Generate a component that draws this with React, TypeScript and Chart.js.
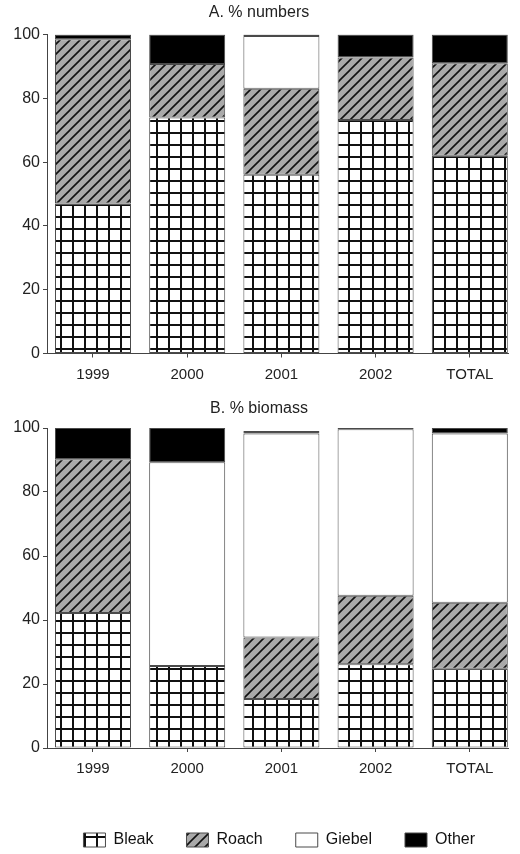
import React, { useEffect, useRef } from "react";
import { Chart, registerables } from "chart.js";

Chart.register(...registerables);

// ---- data ----
const categories = ["1999", "2000", "2001", "2002", "TOTAL"];
const seriesNames = ["Bleak", "Roach", "Giebel", "Other"];
const yTickValues = [0, 20, 40, 60, 80, 100];

const titleNumbers = "A. % numbers";
const bleakNumbers = [47, 74, 56, 73.2, 62];
const roachNumbers = [51.5, 16.75, 27, 19.6, 29];
const giebelNumbers = [0, 0, 16.5, 0, 0];
const otherNumbers = [1.5, 9.25, 0.5, 7.2, 9];

const titleBiomass = "B. % biomass";
const bleakBiomass = [42.2, 25.6, 15.3, 26.2, 24.8];
const roachBiomass = [48, 0, 19.2, 21.4, 20.6];
const giebelBiomass = [0, 63.7, 63.8, 52, 52.9];
const otherBiomass = [9.8, 10.7, 0.8, 0.4, 1.7];

const FONT = "'Liberation Sans', Arial, Helvetica, sans-serif";
const TEXT = "#222";
const AXIS = "#444";
const PAD_LEFT = 10;

function gridPattern(ctx: CanvasRenderingContext2D) {
  const c = document.createElement("canvas");
  c.width = 12;
  c.height = 12;
  const g = c.getContext("2d")!;
  g.fillStyle = "#ffffff";
  g.fillRect(0, 0, 12, 12);
  g.fillStyle = "#111111";
  g.fillRect(0, 0, 12, 2);
  g.fillRect(0, 0, 2, 12);
  return ctx.createPattern(c, "repeat")!;
}

function hatchPattern(ctx: CanvasRenderingContext2D) {
  const c = document.createElement("canvas");
  c.width = 10;
  c.height = 10;
  const g = c.getContext("2d")!;
  g.fillStyle = "#a9a9a9";
  g.fillRect(0, 0, 10, 10);
  g.strokeStyle = "#111111";
  g.lineWidth = 1.6;
  g.beginPath();
  g.moveTo(-2, 12);
  g.lineTo(12, -2);
  g.moveTo(-2, 2);
  g.lineTo(2, -2);
  g.moveTo(8, 12);
  g.lineTo(12, 8);
  g.stroke();
  return ctx.createPattern(c, "repeat")!;
}

function buildConfig(
  canvas: HTMLCanvasElement,
  title: string,
  series: number[][],
  withLegend: boolean,
  titlePad: { top: number; bottom: number },
  xHeight: number
): any {
  const ctx = canvas.getContext("2d")!;
  const fills: any[] = [gridPattern(ctx), hatchPattern(ctx), "#ffffff", "#000000"];
  const datasets = seriesNames.map((name, k) => ({
    label: name,
    data: series[k].map((v, i) => ({ x: i, y: v })),
    backgroundColor: fills[k],
    borderColor: "#4a4a4a",
    borderWidth: 1,
    borderSkipped: false,
    inflateAmount: 0,
    barPercentage: 0.807,
    categoryPercentage: 1,
  }));
  return {
    type: "bar",
    data: { datasets },
    options: {
      animation: false,
      responsive: false,
      devicePixelRatio: 1,
      layout: { padding: { left: PAD_LEFT, right: 12, top: 0, bottom: 0 } },
      plugins: {
        title: {
          display: true,
          text: title,
          color: TEXT,
          font: { family: FONT, size: 16, weight: "normal" },
          padding: titlePad,
        },
        legend: withLegend
          ? {
              display: true,
              position: "bottom",
              align: "end",
              labels: {
                boxWidth: 22,
                boxHeight: 14,
                padding: 33,
                color: "#111",
                font: { family: FONT, size: 16 },
              },
            }
          : { display: false },
        tooltip: { enabled: false },
      },
      scales: {
        x: {
          type: "linear",
          stacked: true,
          offset: false,
          min: -0.4883,
          max: 4.4056,
          afterBuildTicks: (s: any) => {
            s.ticks = categories.map((_, i) => ({ value: i }));
          },
          afterFit: (s: any) => {
            s.height = xHeight;
          },
          ticks: {
            callback: (v: any) => categories[Math.round(v)] ?? "",
            color: TEXT,
            font: { family: FONT, size: 15 },
            padding: 8,
            autoSkip: false,
            maxRotation: 0,
          },
          grid: {
            display: true,
            offset: false,
            drawOnChartArea: false,
            drawTicks: true,
            tickLength: 4,
            color: AXIS,
          },
          border: { display: true, color: AXIS, width: 1 },
        },
        y: {
          stacked: true,
          min: 0,
          max: 100,
          afterBuildTicks: (s: any) => {
            s.ticks = yTickValues.map((v) => ({ value: v }));
          },
          afterFit: (s: any) => {
            s.width = 47 - PAD_LEFT;
          },
          ticks: {
            color: TEXT,
            font: { family: FONT, size: 16 },
            padding: 3,
          },
          grid: {
            display: true,
            drawOnChartArea: false,
            drawTicks: true,
            tickLength: 4,
            color: AXIS,
          },
          border: { display: true, color: AXIS, width: 1 },
        },
      },
    },
  };
}

export default function App() {
  const refA = useRef<HTMLCanvasElement>(null);
  const refB = useRef<HTMLCanvasElement>(null);

  useEffect(() => {
    const a = new Chart(
      refA.current!,
      buildConfig(
        refA.current!,
        titleNumbers,
        [bleakNumbers, roachNumbers, giebelNumbers, otherNumbers],
        false,
        { top: 3, bottom: 12.3 },
        38.5
      )
    );
    const b = new Chart(
      refB.current!,
      buildConfig(
        refB.current!,
        titleBiomass,
        [bleakBiomass, roachBiomass, giebelBiomass, otherBiomass],
        true,
        { top: 7, bottom: 9.8 },
        51
      )
    );
    return () => {
      a.destroy();
      b.destroy();
    };
  }, []);

  return (
    <div
      style={{
        position: "absolute",
        left: 0,
        top: 0,
        width: 520,
        height: 854,
        overflow: "hidden",
        background: "#fff",
      }}
    >
      <canvas
        ref={refA}
        width={520}
        height={392}
        style={{ position: "absolute", left: 0, top: 0, width: 520, height: 392 }}
      />
      <canvas
        ref={refB}
        width={520}
        height={466}
        style={{ position: "absolute", left: 0, top: 392, width: 520, height: 466 }}
      />
    </div>
  );
}
